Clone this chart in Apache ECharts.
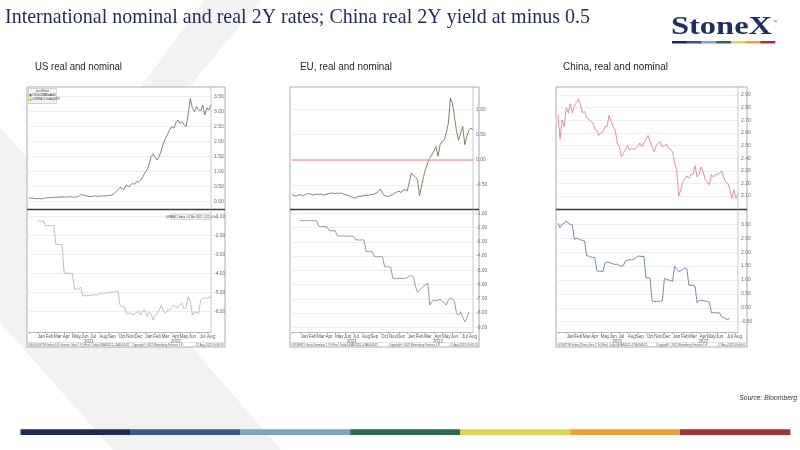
<!DOCTYPE html>
<html><head><meta charset="utf-8">
<script src="https://cdn.jsdelivr.net/npm/echarts@6/dist/echarts.min.js"></script>
<style>html,body{margin:0;padding:0;background:#fff}#c{width:800px;height:450px}</style>
</head><body><div id="c"></div>
<script>
// ---------- DATA ----------
const firstWeek = [2020, 11, 7];   // weekly categories, Mondays
const lastWeek  = [2022, 7, 15];
const monthNames = ['Jan','Feb','Mar','Apr','May','Jun','Jul','Aug','Sep','Oct','Nov','Dec'];
const yearLabelDates = ['2021-06-28','2022-04-18'];

const usNominalTicks = [0, 0.5, 1, 1.5, 2, 2.5, 3, 3.5];
const usRealTicks = [-6, -5, -4, -3, -2, -1];
const euNominalTicks = [-0.5, 0, 0.5, 1.0];
const euRealTicks = [-9, -8, -7, -6, -5, -4, -3, -2, -1];
const cnNominalTicks = [2.1, 2.2, 2.3, 2.4, 2.5, 2.6, 2.7, 2.8, 2.9];
const cnRealTicks = [-0.5, 0, 0.5, 1.0, 1.5, 2.0, 2.5, 3.0];

const usNominal = [0.13,0.12,0.12,0.11, 0.10,0.11,0.09,0.11,0.12, 0.14,0.13,0.14,0.15, 0.14,0.15,0.16,0.15,
 0.16,0.15,0.16,0.17,0.15, 0.15,0.16,0.17,0.24, 0.22,0.21,0.19,0.18, 0.17,0.19,0.20,0.18, 0.19,0.18,0.20,0.19,0.20,
 0.21,0.22,0.26,0.33, 0.40,0.48,0.44,0.41, 0.56,0.50,0.53,0.61,0.58, 0.67,0.66,0.72,0.83, 0.96,1.06,1.22,1.50,1.59,
 1.48,1.39,1.52,1.72, 1.95,2.11,2.25,2.39, 2.50,2.45,2.63,2.72, 2.61,2.67,2.56,2.50,2.94, 3.44,3.11,3.00,3.17,
 3.05,3.03,3.22,2.89, 3.13,3.05,3.22];
const usReal = [null,null,null,null, -1.23,-1.22,-1.24,-1.23, -1.47,-1.46,-1.48,-1.47,-1.47, -2.46,-2.45,-2.47,-2.46,
 -3.98,-3.97,-3.99,-3.98,-4.00, -4.81,-4.80,-4.82,-4.70, -5.16,-5.15,-5.17,-5.14, -5.13,-5.12,-5.10,-5.12,
 -5.05,-5.04,-5.06,-5.03,-5.00, -4.98,-4.99,-4.96,-4.95,-4.91, -5.65,-5.72,-5.74,-6.09, -6.10,-6.05,-6.18,-6.12,
 -6.05,-5.98,-6.18,-5.95, -5.90,-6.25,-6.00,-6.10,-6.44, -6.20,-6.09,-5.90,-5.65, -5.95,-6.09,-5.90,-5.92,
 -5.80,-5.65,-5.78,-5.74, -5.62,-5.57,-5.86,-5.74,-5.21, -5.45,-6.18,-6.00,-6.05, -6.09,-5.40,-5.30,-5.26,
 -5.30,-5.25,-5.22];
const euNominal = [-0.69,-0.71,-0.72,-0.70, -0.69,-0.71,-0.70,-0.68,-0.67, -0.68,-0.70,-0.69,-0.68, -0.69,-0.68,-0.70,-0.69,
 -0.68,-0.67,-0.66,-0.66,-0.67, -0.66,-0.67,-0.66,-0.68, -0.69,-0.70,-0.72,-0.74, -0.76,-0.75,-0.73,-0.72,
 -0.72,-0.71,-0.70,-0.71,-0.69, -0.69,-0.68,-0.66,-0.63,-0.58, -0.66,-0.71,-0.72,-0.73, -0.70,-0.69,-0.66,-0.64,
 -0.62,-0.65,-0.60,-0.59, -0.62,-0.45,-0.26,-0.31,-0.34, -0.39,-0.71,-0.52,-0.33, -0.18,-0.06,0.03,0.10,
 0.18,0.26,0.07,0.30, 0.36,0.39,0.53,0.72,1.22, 1.12,0.86,0.56,0.39, 0.53,0.66,0.30,0.46, 0.59,0.63,0.59];
const euReal = [null,null,null,null, -1.52,-1.51,-1.52,-1.50,-1.51,-1.52,-1.51,-1.52,-1.53,
 -1.90,-1.94,-1.92,-1.94,-1.95, -2.20,-2.22,-2.23,-2.22, -2.57,-2.59,-2.60,-2.58,-2.60,-2.61,-2.59,-2.60,-2.62,
 -2.85,-2.87,-2.88,-2.86,-2.88, -3.67,-3.69,-3.70,-3.69, -4.02,-4.04,-4.05,-4.03,-4.05, -4.73,-4.75,-4.76,-4.78,
 -5.55,-5.57,-5.58,-5.56,-5.57,-5.59,-5.56,-5.52, -5.40,-5.38,-5.46, -6.10,-6.55, -6.40,-6.25,-6.10,-6.00,-5.92,
 -7.44, -7.20,-7.09,-7.15,-7.09,-7.05, -7.15,-7.30,-7.44, -7.10,-6.93,-7.00, -7.20, -8.03, -8.14,-7.91,
 -8.30, -8.61, -8.38, -7.91, null,null];
const cnNominal = [2.74,2.55,2.70,2.65,2.80,2.76,2.83,2.76,2.81,2.84,2.87,2.82,2.76,2.77,2.72,2.71,2.69,2.68,2.63,2.62,
 2.58,2.60,2.61,2.65,2.65,2.74,2.69,2.65,2.62,2.52,2.49,2.41,2.44,2.47,2.50,2.46,2.48,2.47,2.48,2.49,
 2.52,2.49,2.52,2.55,2.58,2.53,2.49,2.45,2.50,2.52,2.53,2.49,2.50,2.51,2.48,2.47,2.45,2.36,2.31,2.10,
 2.15,2.21,2.24,2.26,2.24,2.27,2.27,2.34,2.25,2.27,2.33,2.29,2.23,2.21,2.19,2.27,2.25,2.27,2.27,2.28,
 2.30,2.25,2.21,2.20,2.15,2.08,2.15,2.08,2.12];
const cnReal = [3.04,2.88,3.00,3.04,3.12,3.04,3.00,2.98, 2.46,2.50,2.48,2.44,2.42,2.40, 1.87,1.86,1.83,1.81,1.80,
 1.33,1.31,1.32,1.30, 1.61,1.64,1.63,1.60,1.58,1.55,1.57,1.52, 1.50,1.52, 1.69,1.70,1.73,1.72,1.75,1.78,
 1.85,1.86,1.84,1.85, 1.07,1.08,1.06, 0.24,0.23,0.22,0.24,0.23,0.25, 1.05,1.03,1.00,0.98,0.95,
 1.49,1.40,1.31,1.33,1.38,1.43,1.40, 0.81,0.80,0.82,0.78, 0.18,0.25,0.27,0.26,0.24,0.22,0.20,
 -0.18,-0.18,-0.17,-0.19,-0.18, -0.33,-0.35,-0.40,-0.42,-0.38, null,null,null,null];

// ---------- BUILD ----------
const dates = [];
for (let t = Date.UTC(...firstWeek); t <= Date.UTC(...lastWeek); t += 7 * 864e5) dates.push(new Date(t).toISOString().slice(0, 10));

const panels = [
  {box:[27,87,198], plotL:29, plotR:211, title:'US real and nominal', tx:35, tw:87,
   footer:['SGUSGG2YR Index (US Generic Govt 2 Yr) Real  Daily 04JAN2021-17AUG2022','Copyright\u00a9 2022 Bloomberg Finance L.P.','17-Aug-2022 09:46:58'],
   top:{data:usNominal, ticks:usNominalTicks, y0:96.7, y1:201.7, color:'#55704d'},
   bottom:{data:usReal, ticks:usRealTicks, y0:216.7, y1:311.7, axisY:332, color:'#a9b1bf'}},
  {box:[290,87,189], plotL:292, plotR:473, title:'EU, real and nominal', tx:300, tw:92,
   footer:['GTDEM2Y Govt (Germany 2 Yr) Real  Daily 04JAN2021-17AUG2022','Copyright\u00a9 2022 Bloomberg Finance L.P.','17-Aug-2022 09:48:10'],
   top:{data:euNominal, ticks:euNominalTicks, y0:109.3, y1:185, color:'#5b6b45', zero:true},
   bottom:{data:euReal, ticks:euRealTicks, y0:213.3, y1:327.3, axisY:332, color:'#7a8494'}},
  {box:[556,87,191], plotL:558, plotR:738, title:'China, real and nominal', tx:563, tw:105,
   footer:['GCNY2YR Index (China Govt 2 Yr) Real  Daily 04JAN2021-17AUG2022','Copyright\u00a9 2022 Bloomberg Finance L.P.','17-Aug-2022 09:49:01'],
   top:{data:cnNominal, ticks:cnNominalTicks, y0:95, y1:196, color:'#e0768a'},
   bottom:{data:cnReal, ticks:cnRealTicks, y0:224.3, y1:321.7, axisY:332, color:'#50709c'}}
];

const grids = [], xAxes = [], yAxes = [], series = [];
panels.forEach(p => {
  [p.top, p.bottom].forEach((c, k) => {
    const gi = grids.length;
    grids.push({left:p.plotL, width:p.plotR - p.plotL, top:c.y0, height:c.y1 - c.y0});
    const iv = Math.round((c.ticks[1] - c.ticks[0]) * 1000) / 1000;
    yAxes.push({type:'value', gridIndex:gi, position:'right', min:c.ticks[0], max:c.ticks[c.ticks.length-1], interval:iv,
      axisLine:{show:false}, axisTick:{show:false},
      splitLine:{lineStyle:{color:'#e2e2e2', width:0.6}},
      axisLabel:{fontSize:5, color:'#6a6a6a', margin:3, fontFamily:'Liberation Sans', formatter:v => v.toFixed(2)}});
    const xi = xAxes.length;
    xAxes.push({type:'category', gridIndex:gi, data:dates, boundaryGap:false, show:k === 1, position:'bottom',
      offset:k === 1 ? c.axisY - c.y1 : 0,
      axisLine:{onZero:false, lineStyle:{color:'#8c8c8c', width:0.6}},
      axisTick:{interval:(i, v) => +v.slice(8) <= 7, length:2, lineStyle:{color:'#8c8c8c', width:0.5}},
      axisLabel:{interval:(i, v) => { const d = +v.slice(8); return d >= 12 && d <= 18 && v >= '2021-01'; },
        formatter:v => monthNames[+v.slice(5, 7) - 1], fontSize:4.5, color:'#555', margin:2, fontFamily:'Liberation Sans'},
      splitLine:{show:false}});
    if (k === 1) {
      xAxes.push({type:'category', gridIndex:gi, data:dates, boundaryGap:false, position:'bottom', offset:c.axisY - c.y1 + 6,
        axisLine:{show:false, onZero:false}, axisTick:{show:false}, splitLine:{show:false},
        axisLabel:{interval:(i, v) => yearLabelDates.includes(v), formatter:v => v.slice(0, 4),
          fontSize:4.5, color:'#555', margin:1, fontFamily:'Liberation Sans'}});
    }
    const s = {type:'line', xAxisIndex:xi, yAxisIndex:gi, data:c.data, symbol:'none', showSymbol:false, clip:false,
      lineStyle:{color:c.color, width:0.8}, animation:false};
    if (c.zero) s.markLine = {silent:true, symbol:'none', label:{show:false}, animation:false,
      lineStyle:{color:'#f4a3a3', width:1.6, type:'solid'}, data:[{yAxis:0}]};
    series.push(s);
  });
});

// ---------- DECORATION ----------
const mctx = document.createElement('canvas').getContext('2d');
function fit(text, font, w) { mctx.font = font; return w / mctx.measureText(text).width; }
function txt(text, x, y, font, fill, opts) {
  opts = opts || {};
  return {type:'text', x:x, y:y, scaleX:opts.scaleX || 1, z:50, silent:true,
    style:{text:text, x:0, y:0, font:font, fill:fill, textAlign:opts.align || 'left', textVerticalAlign:'middle', align:opts.align || 'left', verticalAlign:'middle'}};
}
const G = [];
G.push({type:'polygon', z:-20, silent:true, shape:{points:[[205,0],[261,0],[0,316],[0,278]]}, style:{fill:'#f2f2f2'}});
G.push({type:'polygon', z:-20, silent:true, shape:{points:[[0,322],[113,450],[281,450],[0,127]]}, style:{fill:'#f2f2f2'}});

const titleText = 'International nominal and real 2Y rates; China real 2Y yield at minus 0.5';
const titleFont = '22px "Liberation Serif"';
G.push(txt(titleText, 5, 17.5, titleFont, '#1f2a5c', {scaleX:fit(titleText, titleFont, 585)}));
const logoFont = 'bold 25px "Liberation Serif"';
G.push(txt('StoneX', 671, 28, logoFont, '#1f2f5e', {scaleX:fit('StoneX', logoFont, 101)}));
G.push(txt('\u2122', 773, 22, '4px "Liberation Sans"', '#1f2f5e'));
const barColors = ['#1f2a5a','#34588a','#78a7c8','#2d6b4e','#ddd35a','#eba232','#a83036'];
barColors.forEach((col, i) => {
  G.push({type:'rect', z:5, silent:true, shape:{x:672 + i * 103 / 7, y:41, width:103 / 7 + 0.3, height:2.5}, style:{fill:col}});
  G.push({type:'rect', z:5, silent:true, shape:{x:20.5 + i * 769.5 / 7, y:429.3, width:769.5 / 7 + 0.3, height:5.7}, style:{fill:col}});
});
G.push(txt('Source: Bloomberg', 797, 398, 'italic 7.5px "Liberation Sans"', '#333', {align:'right', scaleX:0.9}));

panels.forEach(p => {
  const [bx, by, bw] = p.box, bh = 260;
  const subFont = '10px "Liberation Sans"';
  G.push(txt(p.title, p.tx, 67, subFont, '#262626', {scaleX:fit(p.title, subFont, p.tw)}));
  G.push({type:'rect', z:-10, silent:true, shape:{x:bx, y:by, width:bw, height:bh}, style:{fill:'#ffffff'}});
  G.push({type:'rect', z:40, silent:true, shape:{x:bx, y:by, width:bw, height:bh}, style:{fill:'none', stroke:'#8e9aac', lineWidth:0.8}});
  G.push({type:'line', z:40, silent:true, shape:{x1:bx, y1:209.5, x2:bx + bw, y2:209.5}, style:{stroke:'#3a3a3a', lineWidth:1.5}});
  G.push({type:'line', z:40, silent:true, shape:{x1:p.plotR, y1:by, x2:p.plotR, y2:p.bottom.axisY}, style:{stroke:'#a8a8a8', lineWidth:0.6}});
  G.push({type:'line', z:40, silent:true, shape:{x1:bx, y1:342.5, x2:bx + bw, y2:342.5}, style:{stroke:'#c8c8c8', lineWidth:0.5}});
  const ff = '2.8px "Liberation Sans"';
  G.push(txt(p.footer[0], bx + 1.5, 344.8, ff, '#555'));
  G.push(txt(p.footer[1], bx + bw * 0.66, 344.8, ff, '#555', {align:'center'}));
  G.push(txt(p.footer[2], bx + bw - 1.5, 344.8, ff, '#555', {align:'right'}));
});
// US legend box
G.push({type:'rect', z:45, silent:true, shape:{x:28.5, y:88.5, width:28, height:15}, style:{fill:'#f3f3f3', stroke:'#b0b0b0', lineWidth:0.5}});
G.push(txt('Last Price', 42.5, 91, '3px "Liberation Sans"', '#444', {align:'center'}));
G.push({type:'rect', z:46, silent:true, shape:{x:29.5, y:94, width:2, height:2.4}, style:{fill:'#3c7a3c'}});
G.push(txt('USGG2YR Index', 32.5, 95.2, '2.8px "Liberation Sans"', '#444'));
G.push(txt('3.21  -0.03', 55.5, 95.2, '2.8px "Liberation Sans"', '#444', {align:'right'}));
G.push({type:'rect', z:46, silent:true, shape:{x:29.5, y:98.3, width:2, height:2.4}, style:{fill:'#f0a020'}});
G.push(txt('USREAL2 Index - CPI', 32.5, 99.5, '2.8px "Liberation Sans"', '#444'));
G.push(txt('-5.22', 55.5, 99.5, '2.8px "Liberation Sans"', '#444', {align:'right'}));
// US real label box
G.push({type:'rect', z:45, silent:true, shape:{x:171.5, y:214, width:39, height:5.5}, style:{fill:'#f6f6f6', stroke:'#9a9a9a', lineWidth:0.4}});
G.push(txt('.USREAL2 Index - 01 Mar 2022  -5.22  -0.04', 191, 216.8, '2.6px "Liberation Sans"', '#444', {align:'center'}));

const chart = echarts.init(document.getElementById('c'), null, {renderer:'canvas'});
chart.setOption({animation:false, backgroundColor:'#ffffff', grid:grids, xAxis:xAxes, yAxis:yAxes, series:series, graphic:{elements:G}});
</script></body></html>
